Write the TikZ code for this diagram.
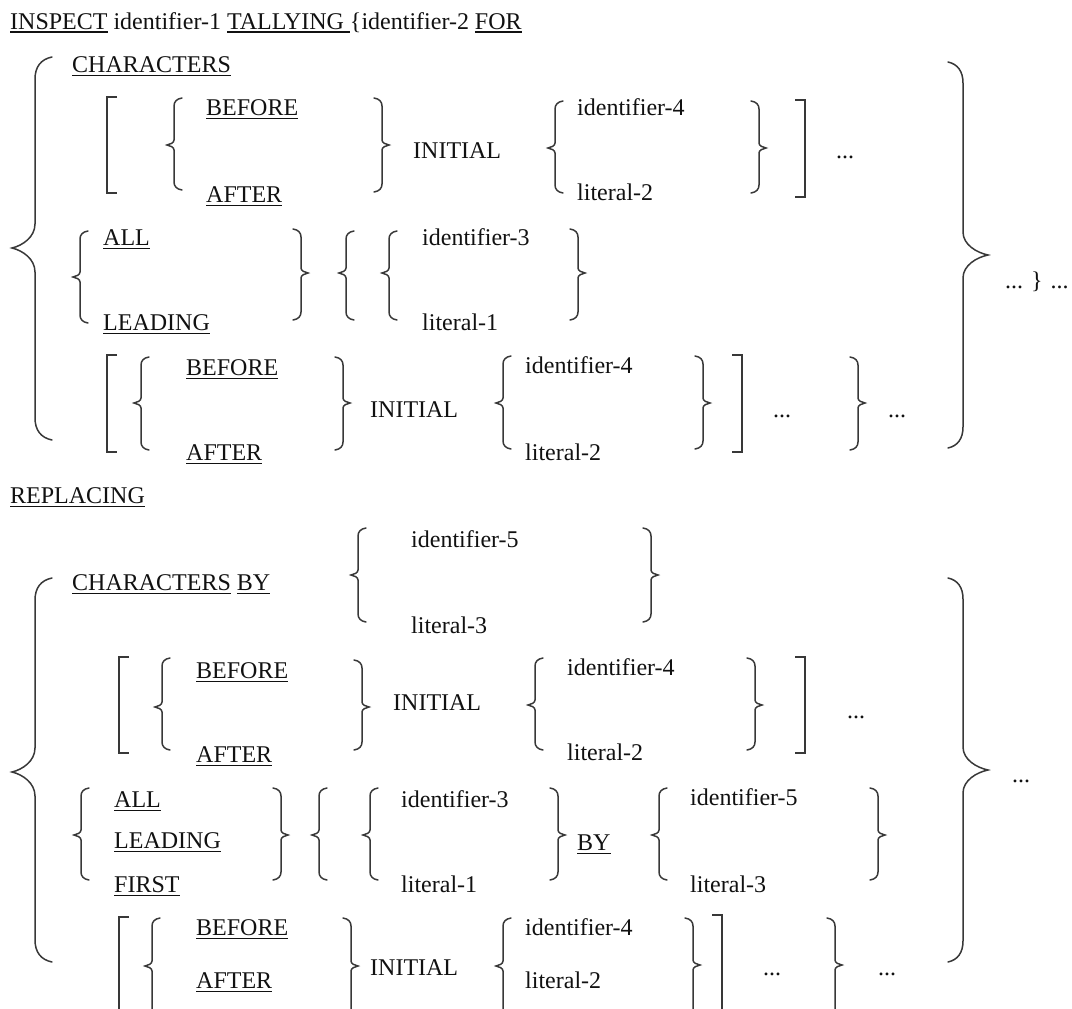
\documentclass[tikz,border=0pt]{standalone}
\usepackage{fontspec}
\setmainfont{Liberation Serif}
\usepackage{tikz}
\definecolor{Ink}{HTML}{111111}
\definecolor{Stroke}{HTML}{383838}
\newsavebox{\kwbox}
\newcommand{\kw}[1]{\sbox{\kwbox}{#1}\rlap{\rule[-3.8pt]{\wd\kwbox}{1.3pt}}\usebox{\kwbox}}
\newcommand{\synsize}{\fontsize{24}{28}\selectfont}
\tikzset{word/.style={anchor=base west,inner sep=0pt,font=\synsize,text=Ink},
  brc/.style={draw=Stroke,line width=1.5pt,line cap=round},
  sqb/.style={draw=Stroke,line width=2.4pt}}
% brace: x, top, tip, bottom, hook width, tip width, hook height, tip height
\newcommand{\brc}[8]{\draw[brc] ({#1+(#5)},#2) .. controls ({#1+0.35*(#5)},{#2+0.1*#7}) and (#1,{#2+0.45*#7}) .. (#1,{#2+#7})
  -- (#1,{#3-#8}) .. controls (#1,{#3-0.45*#8}) and ({#1-0.55*(#6)},{#3-0.1*#8}) .. ({#1-(#6)},#3)
  .. controls ({#1-0.55*(#6)},{#3+0.1*#8}) and (#1,{#3+0.45*#8}) .. (#1,{#3+#8})
  -- (#1,{#4-#7}) .. controls (#1,{#4-0.45*#7}) and ({#1+0.35*(#5)},{#4-0.1*#7}) .. ({#1+(#5)},#4);}
\newcommand{\lbr}[4]{\brc{#1}{#2}{#3}{#4}{8}{7}{8}{5}}
\newcommand{\rbr}[4]{\brc{#1}{#2}{#3}{#4}{-8}{-7}{8}{5}}
% square bracket: x, top, bottom, serif
\newcommand{\sqb}[4]{\draw[sqb] ({#1+(#4)},#2) -- (#1,#2) -- (#1,#3) -- ({#1+(#4)},#3);}

\begin{document}
\begin{tikzpicture}[x=1pt,y=-1pt]
  \useasboundingbox (0,0) rectangle (1072,1009);
  \clip (0,0) rectangle (1072,1009);
  % TALLYING part
  \node[word] (hdr) at (10,29) {\kw{INSPECT} identifier-1 \kw{TALLYING\ }\{identifier-2 \kw{FOR}};
  \brc{35}{57}{248}{440}{17}{23}{22}{24}
  \brc{963}{62}{255}{448}{-15}{-25}{21}{23}
  \node[word] (chars) at (72,72) {\kw{CHARACTERS}};
  \sqb{107}{97}{193}{10}
  \lbr{174}{98}{145}{190}
  \node[word] (bef1) at (206,115) {\kw{BEFORE}};
  \node[word] (aft1) at (206,202) {\kw{AFTER}};
  \rbr{382}{98}{145}{192}
  \node[word] (ini1) at (413,158) {INITIAL};
  \lbr{555}{101}{148}{193}
  \node[word] (id4a) at (577,115) {identifier-4};
  \node[word] (lit2a) at (577,200) {literal-2};
  \rbr{759}{101}{148}{193}
  \sqb{805}{100}{197}{-10}
  \node[word] (dots1) at (836,158) {...};
  \lbr{80}{231}{277}{323}
  \node[word] (all1) at (103,245) {\kw{ALL}};
  \node[word] (lead1) at (103,330) {\kw{LEADING}};
  \rbr{301}{229}{273}{320}
  \lbr{346}{231}{273}{320}
  \lbr{389}{231}{273}{320}
  \node[word] (id3a) at (422,245) {identifier-3};
  \node[word] (lit1a) at (422,330) {literal-1};
  \rbr{578}{229}{273}{320}
  \sqb{107}{355}{452}{10}
  \lbr{141}{357}{403}{450}
  \node[word] (bef2) at (186,375) {\kw{BEFORE}};
  \node[word] (aft2) at (186,460) {\kw{AFTER}};
  \rbr{343}{357}{403}{450}
  \node[word] (ini2) at (370,417) {INITIAL};
  \lbr{503}{356}{403}{449}
  \node[word] (id4b) at (525,373) {identifier-4};
  \node[word] (lit2b) at (525,460) {literal-2};
  \rbr{703}{356}{403}{449}
  \sqb{742}{355}{452}{-10}
  \node[word] (dots2) at (773,417) {...};
  \rbr{858}{357}{403}{450}
  \node[word] (dots3) at (888,417) {...};
  \node[word] (tail1) at (1005,288) {... \} ...};
  % REPLACING part
  \node[word] (repl) at (10,503) {\kw{REPLACING}};
  \brc{35}{578}{772}{962}{17}{23}{22}{24}
  \brc{963}{578}{770}{962}{-15}{-25}{21}{23}
  \node[word] (charsby) at (72,590) {\kw{CHARACTERS} \kw{BY}};
  \lbr{358}{528}{575}{622}
  \node[word] (id5a) at (411,547) {identifier-5};
  \node[word] (lit3a) at (411,633) {literal-3};
  \rbr{651}{528}{575}{622}
  \sqb{119}{657}{753}{10}
  \lbr{162}{658}{707}{750}
  \node[word] (bef3) at (196,678) {\kw{BEFORE}};
  \node[word] (aft3) at (196,762) {\kw{AFTER}};
  \rbr{362}{660}{707}{750}
  \node[word] (ini3) at (393,710) {INITIAL};
  \lbr{535}{658}{705}{750}
  \node[word] (id4c) at (567,675) {identifier-4};
  \node[word] (lit2c) at (567,760) {literal-2};
  \rbr{755}{658}{705}{750}
  \sqb{805}{657}{753}{-10}
  \node[word] (dots4) at (847,718) {...};
  \node[word] (tail2) at (1012,782) {...};
  \lbr{81}{788}{835}{880}
  \node[word] (all2) at (114,807) {\kw{ALL}};
  \node[word] (lead2) at (114,848) {\kw{LEADING}};
  \node[word] (first2) at (114,892) {\kw{FIRST}};
  \rbr{281}{788}{835}{880}
  \lbr{319}{788}{835}{880}
  \lbr{370}{788}{835}{880}
  \node[word] (id3b) at (401,807) {identifier-3};
  \node[word] (lit1b) at (401,892) {literal-1};
  \rbr{558}{788}{835}{880}
  \node[word] (by2) at (577,850) {\kw{BY}};
  \lbr{659}{788}{835}{880}
  \node[word] (id5b) at (690,805) {identifier-5};
  \node[word] (lit3b) at (690,892) {literal-3};
  \rbr{878}{788}{835}{880}
  \sqb{119}{917}{1040}{10}
  \lbr{152}{918}{966}{1030}
  \node[word] (bef4) at (196,935) {\kw{BEFORE}};
  \node[word] (aft4) at (196,988) {\kw{AFTER}};
  \rbr{351}{918}{966}{1030}
  \node[word] (ini4) at (370,975) {INITIAL};
  \lbr{503}{918}{966}{1030}
  \node[word] (id4d) at (525,935) {identifier-4};
  \node[word] (lit2d) at (525,988) {literal-2};
  \rbr{693}{918}{965}{1030}
  \sqb{722}{915}{1040}{-10}
  \node[word] (dots5) at (763,975) {...};
  \rbr{835}{918}{965}{1030}
  \node[word] (dots6) at (878,975) {...};
\end{tikzpicture}
\end{document}
